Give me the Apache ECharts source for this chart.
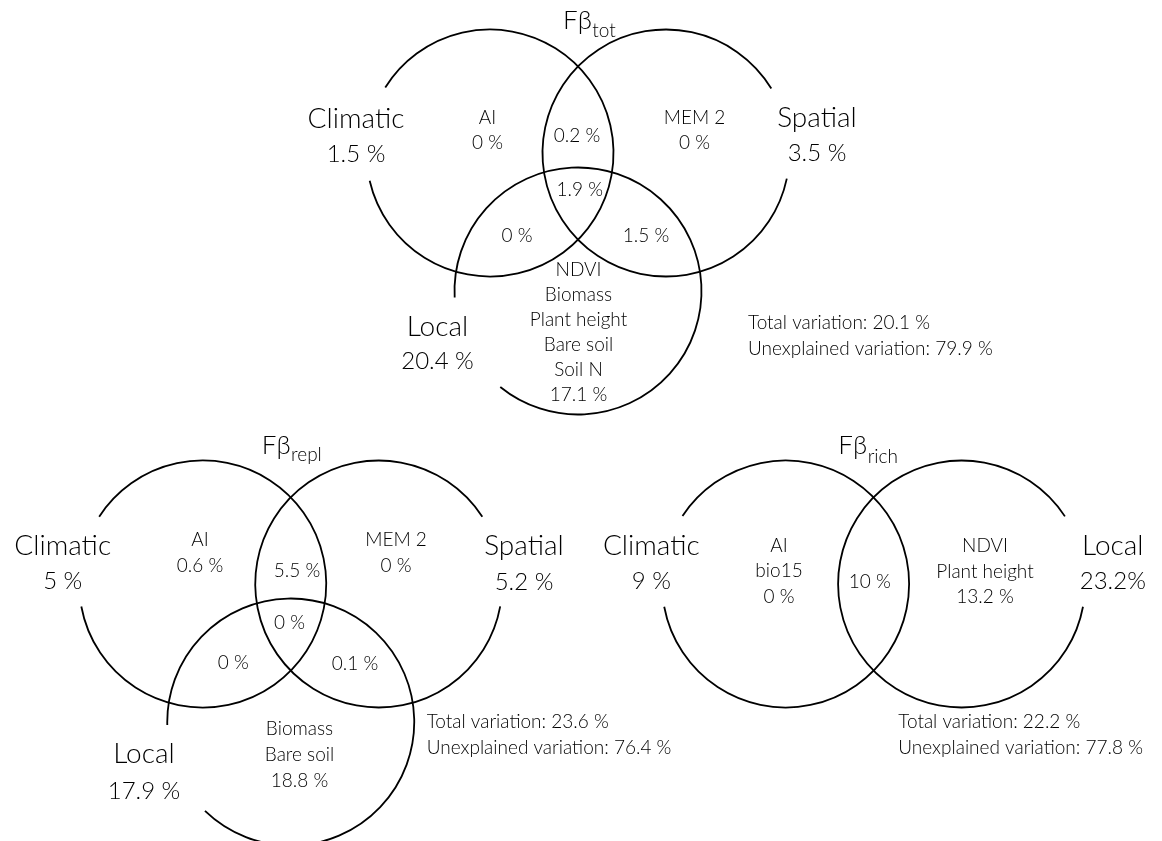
<!DOCTYPE html>
<html>
<head>
<meta charset="utf-8">
<title>Variation partitioning Venn diagrams</title>
<script src="https://cdn.jsdelivr.net/npm/echarts/dist/echarts.min.js"></script>
<style>
  html, body { margin: 0; padding: 0; background: #ffffff; }
  #chart { width: 1162px; height: 841px; }
</style>
</head>
<body>
<div id="chart"></div>
<script>
// ---------------- DATA ----------------
// Region order for 3-set diagrams: [C only, S only, L only, C∩S, C∩L, S∩L, C∩S∩L]
// Region order for 2-set diagram:  [C only, L only, C∩L]
const titleMain = 'Fβ';
const titleSubs = ['tot', 'repl', 'rich'];

const totSetNames = ['Climatic', 'Spatial', 'Local'];
const totSetPct = [1.5, 3.5, 20.4];
const totRegionVars = [['AI'], ['MEM 2'], ['NDVI', 'Biomass', 'Plant height', 'Bare soil', 'Soil N'], [], [], [], []];
const totRegionPct = [0, 0, 17.1, 0.2, 0, 1.5, 1.9];
const totVariation = [20.1, 79.9];   // total, unexplained

const replSetNames = ['Climatic', 'Spatial', 'Local'];
const replSetPct = [5, 5.2, 17.9];
const replRegionVars = [['AI'], ['MEM 2'], ['Biomass', 'Bare soil'], [], [], [], []];
const replRegionPct = [0.6, 0, 18.8, 5.5, 0, 0.1, 0];
const replVariation = [23.6, 76.4];

const richSetNames = ['Climatic', 'Local'];
const richSetPct = [9, 23.2];
const richRegionVars = [['AI', 'bio15'], ['NDVI', 'Plant height'], []];
const richRegionPct = [0, 13.2, 10];
const richVariation = [22.2, 77.8];

const variationLabels = ['Total variation: ', 'Unexplained variation: '];

// ---------------- LAYOUT (positions in canvas units) ----------------
const R = 123.5;
const LAYOUT = [
  { origin: [578, 153], titleF: [563, 21], titleSubY: 31.5,
    centers: [[-88, 0], [88, 0], [0, 138]],
    gaps: [[148, 193], [-12, 31.5], [183, 231]],
    setAnchors: [[356, 118.5, 154.2], [817, 118.3, 153.3], [437.5, 327, 361.7]],
    setSep: [' ', ' ', ' '],
    regionAnchors: [[487.5, 118.3], [694.5, 117.8], [578.5, 270], [577, 136.3], [517, 235.5], [646, 235.5], [579.8, 190]],
    lineGap: 25, totals: [748, 322.5, 348.5] },
  { origin: [290.75, 584], titleF: [261.7, 446], titleSubY: 456.2,
    centers: [[-88, 0], [88, 0], [0, 138]],
    gaps: [[147, 190.5], [-10.4, 33], [181.4, 226]],
    setAnchors: [[62.7, 545.5, 581.7], [524, 546, 582.5], [144, 754, 791]],
    setSep: [' ', ' ', ' '],
    regionAnchors: [[200, 539.7], [396, 540], [299.5, 729], [297, 571], [233.3, 663.3], [355, 663.5], [289.5, 623]],
    lineGap: 25.8, totals: [426.7, 721.7, 748.3] },
  { origin: [873.6, 584], titleF: [838.3, 446], titleSubY: 458.2,
    centers: [[-88, 0], [88, 0]],
    gaps: [[146.6, 190.6], [-10.6, 33.2]],
    setAnchors: [[651.3, 545.5, 581.7], [1112.8, 545.5, 581.7]],
    setSep: [' ', ''],
    regionAnchors: [[779, 545.5], [985, 546], [869.7, 582]],
    lineGap: 25.5, totals: [898.3, 721.7, 748.3] }
];

const FONT = 'Lato, "Open Sans", sans-serif';
const WEIGHT = 300;
const SIZES = { big: 28, pct: 24, small: 19, tmain: 26, tsub: 19 };
const YADJ = { big: 0, pct: 0, small: 0, tmain: 0, tsub: -1 };
const TEXT_COLOR = '#000000';

// measure the main title width so the subscript follows it directly
const measureCtx = document.createElement('canvas').getContext('2d');
measureCtx.font = WEIGHT + ' ' + SIZES.tmain + 'px ' + FONT;
const titleMainWidth = measureCtx.measureText(titleMain).width;

// ---------------- BUILD ----------------
const PANELS = [
  { names: totSetNames, setPct: totSetPct, vars: totRegionVars, pct: totRegionPct, variation: totVariation },
  { names: replSetNames, setPct: replSetPct, vars: replRegionVars, pct: replRegionPct, variation: replVariation },
  { names: richSetNames, setPct: richSetPct, vars: richRegionVars, pct: richRegionPct, variation: richVariation }
];

const circleItems = [];
const labelItems = [];
function addLabel(x, y, text, kind, align) {
  labelItems.push({ x: x, y: y + YADJ[kind], text: text, kind: kind, align: align || 'center' });
}

PANELS.forEach(function (p, i) {
  const L = LAYOUT[i];
  L.centers.forEach(function (c, k) {
    circleItems.push({ x: L.origin[0] + c[0], y: L.origin[1] + c[1], r: R, g1: L.gaps[k][0], g2: L.gaps[k][1] });
  });
  addLabel(L.titleF[0], L.titleF[1], titleMain, 'tmain', 'left');
  addLabel(L.titleF[0] + titleMainWidth + 0.5, L.titleSubY, titleSubs[i], 'tsub', 'left');
  p.names.forEach(function (n, k) {
    const a = L.setAnchors[k];
    addLabel(a[0], a[1], n, 'big');
    addLabel(a[0], a[2], p.setPct[k] + L.setSep[k] + '%', 'pct');
  });
  p.pct.forEach(function (v, k) {
    const a = L.regionAnchors[k];
    const lines = (p.vars[k] || []).concat([v + ' %']);
    lines.forEach(function (t, j) {
      addLabel(a[0], a[1] + j * L.lineGap, t, 'small');
    });
  });
  addLabel(L.totals[0], L.totals[1], variationLabels[0] + p.variation[0] + ' %', 'small', 'left');
  addLabel(L.totals[0], L.totals[2], variationLabels[1] + p.variation[1] + ' %', 'small', 'left');
});

// ---------------- CHART ----------------
const chart = echarts.init(document.getElementById('chart'), null, { renderer: 'canvas' });
const option = {
  backgroundColor: '#ffffff',
  animation: false,
  grid: { left: 0, right: 0, top: 0, bottom: 0 },
  xAxis: { type: 'value', min: 0, max: 1162, show: false },
  yAxis: { type: 'value', min: 0, max: 841, inverse: true, show: false },
  series: [
    {
      type: 'custom',
      name: 'circles',
      clip: false,
      silent: true,
      data: circleItems.map(function (c) { return [c.x, c.y, c.r]; }),
      renderItem: function (params, api) {
        const c = circleItems[params.dataIndex];
        const p = api.coord([api.value(0), api.value(1)]);
        const r = api.size([api.value(2), 0])[0];
        return {
          type: 'arc',
          shape: {
            cx: p[0], cy: p[1], r: r,
            startAngle: -c.g1 * Math.PI / 180,
            endAngle: (360 - c.g2) * Math.PI / 180,
            clockwise: true
          },
          style: { stroke: '#000000', lineWidth: 1.8, fill: null }
        };
      }
    },
    {
      type: 'custom',
      name: 'labels',
      clip: false,
      silent: true,
      data: labelItems.map(function (t) { return [t.x, t.y]; }),
      renderItem: function (params, api) {
        const t = labelItems[params.dataIndex];
        const p = api.coord([api.value(0), api.value(1)]);
        return {
          type: 'text',
          style: {
            text: t.text, x: p[0], y: p[1],
            align: t.align, verticalAlign: 'middle',
            fontFamily: FONT, fontWeight: WEIGHT, fontSize: SIZES[t.kind],
            fill: TEXT_COLOR
          }
        };
      }
    }
  ]
};
chart.setOption(option);
</script>
</body>
</html>
